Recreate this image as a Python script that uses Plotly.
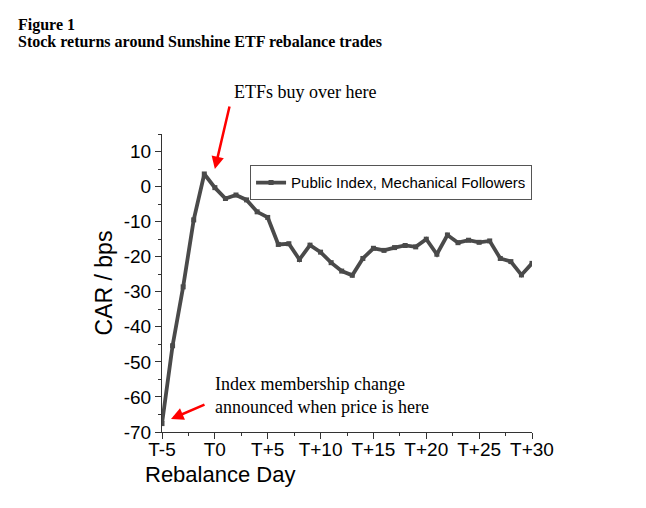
import plotly.graph_objects as go

## Rebalance days relative to T0 and cumulative abnormal return (bps)
days = list(range(-5, 31))
car = [-67.6, -45.4, -28.6, -9.5, 3.6, -0.3, -3.4, -2.4, -3.8, -7.2,
       -8.8, -16.5, -16.3, -20.8, -16.7, -18.7, -21.7, -24.1, -25.3, -20.5,
       -17.6, -18.2, -17.4, -16.8, -17.2, -15.0, -19.3, -13.8, -16.0, -15.3,
       -15.9, -15.5, -20.5, -21.4, -25.2, -21.9]

x_tickvals = [-5, 0, 5, 10, 15, 20, 25, 30]
x_ticktext = ['T-5', 'T0', 'T+5', 'T+10', 'T+15', 'T+20', 'T+25', 'T+30']
y_tickvals = [10, 0, -10, -20, -30, -40, -50, -60, -70]
y_ticktext = ['10', '0', '-10', '-20', '-30', '-40', '-50', '-60', '-70']

LINE = '#4a4a4a'
SERIF = 'Liberation Serif, Times New Roman, serif'
SANS = 'Liberation Sans, Arial, sans-serif'

fig = go.Figure()
fig.add_trace(go.Scatter(
    x=days, y=car, mode='lines+markers',
    name='Public Index, Mechanical Followers',
    line=dict(color=LINE, width=3.8),
    marker=dict(symbol='square', size=5, color=LINE),
))

axis_common = dict(
    showgrid=False, zeroline=False, showline=True, linecolor='#333333', linewidth=1.2,
    ticks='outside', ticklen=6, tickcolor='#333333',
    tickfont=dict(family=SANS, size=19, color='black'),
)
fig.update_xaxes(range=[-5, 30], tickvals=x_tickvals, ticktext=x_ticktext,
                 ticklabelstandoff=-6,
                 minor=dict(dtick=2.5, tick0=-5, ticklen=3, ticks='outside', tickcolor='#333333'),
                 **axis_common)
fig.update_yaxes(range=[-70, 15], tickvals=y_tickvals, ticktext=y_ticktext,
                 minor=dict(dtick=5, tick0=0, ticklen=3, ticks='outside', tickcolor='#333333'),
                 title=dict(text='CAR / bps', font=dict(family=SANS, size=23, color='black'), standoff=4),
                 **axis_common)

## x title sits left of centre in the original, so it is an annotation
fig.add_annotation(xref='paper', yref='paper', x=0.157, y=-0.141, xanchor='center', yanchor='middle',
                   showarrow=False, text='Rebalance Day',
                   font=dict(family=SANS, size=22, color='black'))

## Heading (two lines, tight spacing)
fig.add_annotation(xref='paper', yref='paper', x=-0.3946, y=1.366, xanchor='left', yanchor='middle',
                   showarrow=False, text='<b>Figure 1</b>',
                   font=dict(family=SERIF, size=16, color='black'))
fig.add_annotation(xref='paper', yref='paper', x=-0.3946, y=1.31, xanchor='left', yanchor='middle',
                   showarrow=False, text='<b>Stock returns around Sunshine ETF rebalance trades</b>',
                   font=dict(family=SERIF, size=16, color='black'))

## Arrows and notes
fig.add_annotation(x=0, y=5, ax=15, ay=-64, showarrow=True, arrowhead=2, arrowsize=1,
                   arrowwidth=2.5, arrowcolor='red', text='')
fig.add_annotation(x=-4.15, y=-66.3, ax=35, ay=-15, showarrow=True, arrowhead=2, arrowsize=1,
                   arrowwidth=2.5, arrowcolor='red', text='')
fig.add_annotation(xref='paper', yref='paper', x=0.386, y=1.141, yanchor='middle', showarrow=False,
                   text='ETFs buy over here', font=dict(family=SERIF, size=18, color='black'))
fig.add_annotation(xref='paper', yref='paper', x=0.137, y=0.121, xanchor='left', yanchor='middle',
                   align='left', showarrow=False,
                   text='Index membership change<br>announced when price is here',
                   font=dict(family=SERIF, size=18, color='black'))

## page body has an 8px margin, so the figure is trimmed to fit the window
fig.update_layout(
    width=630, height=492,
    margin=dict(l=154, r=106, t=126, b=68),
    paper_bgcolor='white', plot_bgcolor='white',
    showlegend=True,
    legend=dict(x=0.238, y=0.895, xanchor='left', yanchor='top',
                bordercolor='#555555', borderwidth=1, bgcolor='white',
                font=dict(family=SANS, size=15, color='black'),
                itemwidth=30, tracegroupgap=0),
)

fig.write_html('out.html')
